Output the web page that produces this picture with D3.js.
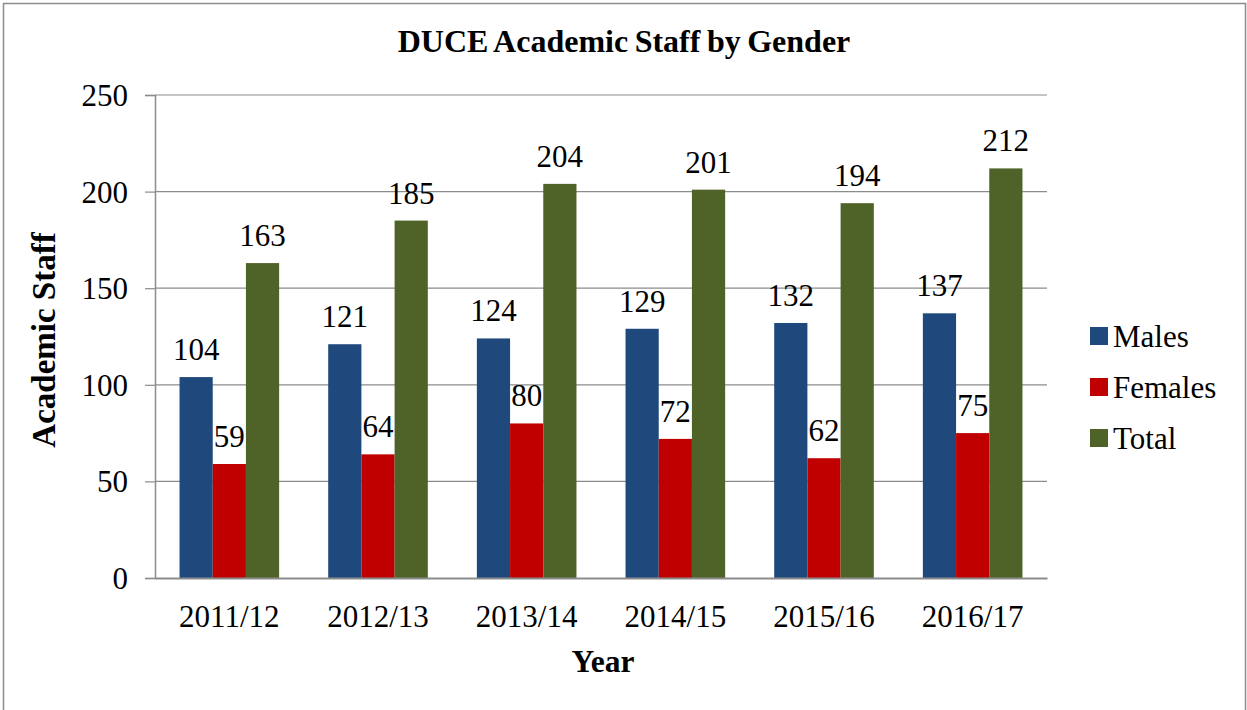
<!DOCTYPE html>
<html>
<head>
<meta charset="utf-8">
<script src="https://cdn.jsdelivr.net/npm/d3@7"></script>
</head>
<body style="margin:0; background:#fff">
<svg width="1247" height="710"></svg>
<script>
// data
let years = ["2011/12", "2012/13", "2013/14", "2014/15", "2015/16", "2016/17"];
let males = [104, 121, 124, 129, 132, 137];
let females = [59, 64, 80, 72, 62, 75];
let totals = [163, 185, 204, 201, 194, 212];
let seriesNames = ["Males", "Females", "Total"];
let seriesColors = ["#1F497D", "#C00000", "#4F6228"];
let yTicks = [0, 50, 100, 150, 200, 250];

let font = "Liberation Serif";

let svg = d3.select("svg"),
    width = +svg.attr("width"),
    height = +svg.attr("height");

// outer chart border
svg.append("rect")
    .attr("x", 3.5).attr("y", 3.5)
    .attr("width", 1242).attr("height", 730)
    .attr("fill", "none")
    .attr("stroke", "#8c8c8c")
    .attr("stroke-width", 1.5);

let plot = { left: 155, right: 1047, top: 95, bottom: 578 };

let x = d3.scaleBand()
    .domain(years)
    .range([plot.left, plot.right])
    .paddingInner(0.33)
    .paddingOuter(0.165);

let xs = d3.scaleBand()
    .domain(seriesNames)
    .range([0, x.bandwidth()]);

let y = d3.scaleLinear()
    .domain([0, 250])
    .range([plot.bottom, plot.top]);

// gridlines
svg.append("g")
    .selectAll("line")
    .data(yTicks.filter(function(d) { return d > 0; }))
    .enter().append("line")
      .attr("x1", plot.left).attr("x2", plot.right)
      .attr("y1", function(d) { return y(d); })
      .attr("y2", function(d) { return y(d); })
      .attr("stroke", "#8c8c8c")
      .attr("stroke-width", 1.2);

// y axis
let yAxis = svg.append("g")
    .attr("transform", "translate(" + plot.left + ",0)")
    .call(d3.axisLeft(y).tickValues(yTicks).tickSize(10).tickPadding(17));
yAxis.attr("font-family", font).attr("font-size", 31);
yAxis.select(".domain").attr("stroke", "#8c8c8c").attr("stroke-width", 1.5);
yAxis.selectAll(".tick line").attr("stroke", "#8c8c8c").attr("stroke-width", 1.2);
yAxis.selectAll(".tick text")
    .style("font-family", font)
    .style("font-size", "31px")
    .attr("fill", "#000")
    .attr("dy", "0.34em");

let rows = years.map(function(yr, i) {
  return { year: yr, values: [males[i], females[i], totals[i]] };
});

let groups = svg.append("g")
    .selectAll("g")
    .data(rows)
    .enter().append("g")
      .attr("transform", function(d) { return "translate(" + x(d.year) + ",0)"; });

groups.selectAll("rect")
    .data(function(d) { return d.values.map(function(v, j) { return { name: seriesNames[j], value: v, color: seriesColors[j] }; }); })
    .enter().append("rect")
      .attr("x", function(d) { return xs(d.name); })
      .attr("y", function(d) { return y(d.value); })
      .attr("width", xs.bandwidth())
      .attr("height", function(d) { return y(0) - y(d.value); })
      .attr("fill", function(d) { return d.color; });

groups.selectAll("text")
    .data(function(d) { return d.values.map(function(v, j) { return { name: seriesNames[j], value: v }; }); })
    .enter().append("text")
      .attr("x", function(d) { return xs(d.name) + xs.bandwidth() / 2; })
      .attr("y", function(d) { return y(d.value) - 17; })
      .attr("text-anchor", "middle")
      .style("font-family", font)
      .style("font-size", "31px")
      .text(function(d) { return d.value; });

// x axis
let xAxis = svg.append("g")
    .attr("transform", "translate(0," + plot.bottom + ")")
    .call(d3.axisBottom(x).tickSize(0).tickPadding(27));
xAxis.attr("font-family", font).attr("font-size", 31);
xAxis.select(".domain").attr("stroke", "#8c8c8c").attr("stroke-width", 2);
xAxis.selectAll(".tick text")
    .style("font-family", font)
    .style("font-size", "31px")
    .attr("fill", "#000")
    .attr("dy", "0.71em");

// titles
svg.append("text")
    .attr("x", 624).attr("y", 52)
    .attr("text-anchor", "middle")
    .style("font-family", font)
    .style("font-size", "32px")
    .style("font-weight", "bold")
    .style("word-spacing", "-1.5px")
    .text("DUCE Academic Staff by Gender");

svg.append("text")
    .attr("x", 603).attr("y", 672)
    .attr("text-anchor", "middle")
    .style("font-family", font)
    .style("font-size", "31.5px")
    .style("font-weight", "bold")
    .text("Year");

svg.append("text")
    .attr("transform", "translate(55,340) rotate(-90)")
    .attr("text-anchor", "middle")
    .style("font-family", font)
    .style("font-size", "33px")
    .style("font-weight", "bold")
    .text("Academic Staff");

// legend
let legend = svg.append("g")
    .selectAll("g")
    .data(seriesNames)
    .enter().append("g")
      .attr("transform", function(d, i) { return "translate(1090," + (336 + i * 51) + ")"; });

legend.append("rect")
    .attr("x", 0).attr("y", -9)
    .attr("width", 18).attr("height", 18)
    .attr("fill", function(d, i) { return seriesColors[i]; });

legend.append("text")
    .attr("x", 23).attr("y", 0)
    .attr("dy", "0.34em")
    .style("font-family", font)
    .style("font-size", "31px")
    .text(function(d) { return d; });
</script>
</body>
</html>
